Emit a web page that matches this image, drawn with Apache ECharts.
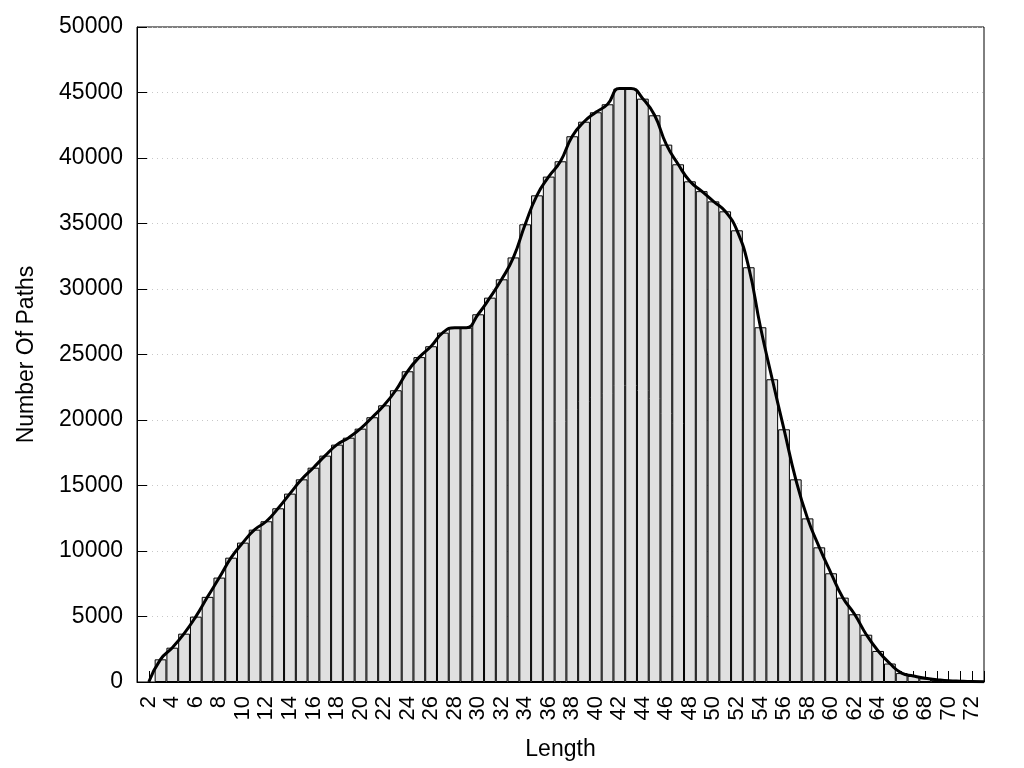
<!DOCTYPE html>
<html>
<head>
<meta charset="utf-8">
<script src="https://cdn.jsdelivr.net/npm/echarts@6/dist/echarts.min.js"></script>
<style>html,body{margin:0;padding:0;background:#fff}#c{width:1024px;height:768px}</style>
</head>
<body>
<div id="c"></div>
<script>
// Path lengths 1..73
var lengths = [];
for (var i = 1; i <= 73; i++) lengths.push(String(i));

// Number of paths per length
var counts = [
  0, 0, 1730, 2620, 3690, 4990, 6500, 7970, 9490, 10640,
  11630, 12270, 13260, 14380, 15470, 16360, 17280, 18120, 18650, 19340,
  20210, 21120, 22270, 23720, 24800, 25630, 26670, 27050, 27050, 28070,
  29340, 30740, 32410, 34940, 37150, 38580, 39750, 41660, 42770, 43490,
  44100, 45300, 45300, 44530, 43260, 41020, 39520, 38220, 37470, 36690,
  35930, 34480, 31660, 27080, 23110, 19290, 15470, 12490, 10280, 8300,
  6440, 5170, 3610, 2370, 1410, 680, 460, 280, 180, 100,
  60, 30, 15
];

// bars: zero counts draw nothing; the last bar sits half outside the plot, so no outline for it
var bars = counts.map(function (v, i) {
  if (v === 0) return '-';
  if (i === counts.length - 1) return { value: v, itemStyle: { borderWidth: 0, opacity: 0 } };
  return v;
});
// smoothed curve: same values, starting at length 2
var curve = counts.map(function (v, i) { return i === 0 ? '-' : v; });

var yTicks = { min: 0, max: 50000, interval: 5000 };

var FONT = '"Liberation Sans", Arial, sans-serif';
var chart = echarts.init(document.getElementById('c'), null, { renderer: 'canvas' });
chart.setOption({
  animation: false,
  backgroundColor: '#fff',
  grid: { left: 137, top: 27, right: 40, bottom: 86, show: true, borderColor: '#000', borderWidth: 1, outerBoundsMode: 'none' },
  xAxis: {
    type: 'category',
    data: lengths,
    boundaryGap: false,
    name: 'Length',
    nameLocation: 'middle',
    nameGap: 56,
    nameTextStyle: { fontFamily: FONT, fontSize: 23, color: '#000' },
    axisLine: { lineStyle: { color: '#000', width: 1 } },
    axisTick: { show: true, inside: true, length: 11, interval: 0, lineStyle: { color: '#000', width: 1 } },
    axisLabel: {
      rotate: 90,
      margin: 14,
      fontFamily: FONT,
      fontSize: 22,
      color: '#000',
      interval: function (idx, val) { return Number(val) % 2 === 0; }
    },
    splitLine: { show: false }
  },
  yAxis: {
    type: 'value',
    min: yTicks.min,
    max: yTicks.max,
    interval: yTicks.interval,
    name: 'Number Of Paths',
    nameLocation: 'middle',
    nameGap: 99,
    nameRotate: 90,
    nameTextStyle: { fontFamily: FONT, fontSize: 23, color: '#000' },
    axisLine: { show: true, lineStyle: { color: '#000', width: 1 } },
    axisTick: { show: true, inside: true, length: 10, lineStyle: { color: '#000', width: 1 } },
    axisLabel: { margin: 14, fontFamily: FONT, fontSize: 23, color: '#000', formatter: function (v) { return String(v); } },
    splitLine: { show: true, lineStyle: { color: '#c8c8c8', width: 1, type: [1, 4] } }
  },
  series: [
    {
      type: 'bar',
      data: bars,
      barCategoryGap: '0%',
      clip: true,
      itemStyle: { color: '#e0e0e0', borderColor: '#000', borderWidth: 1 },
      z: 2
    },
    {
      type: 'line',
      data: curve,
      smooth: 0.5,
      showSymbol: false,
      symbol: 'none',
      clip: true,
      lineStyle: { color: '#000', width: 3 },
      z: 3
    }
  ]
});
</script>
</body>
</html>
